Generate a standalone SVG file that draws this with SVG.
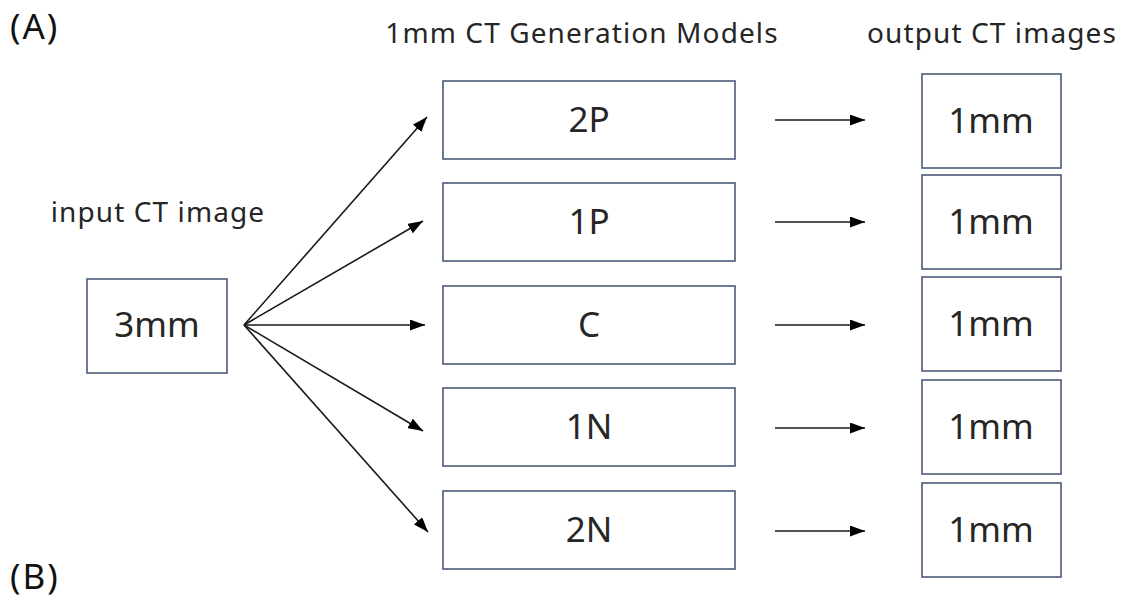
<svg xmlns="http://www.w3.org/2000/svg" width="1122" height="601" viewBox="0 0 1122 601">
  <style>
    .box { fill: #ffffff; stroke: #4a5a78; stroke-width: 1.6; }
    .lbl { font-family: "Noto Sans", "Liberation Sans", sans-serif; fill: #262626; text-anchor: middle; }
    .node { font-size: 35px; }
    .head { font-size: 28px; letter-spacing: 1.1px; }
    .tag { font-family: "Noto Sans", "Liberation Sans", sans-serif; fill: #111111; font-size: 35px; letter-spacing: 2px; }
    .conn { stroke: #1a1a1a; stroke-width: 1.6; fill: none; marker-end: url(#arrow); }
  </style>
  <defs>
    <marker id="arrow" viewBox="0 0 15 11" refX="15" refY="5.5" markerWidth="15" markerHeight="11" markerUnits="userSpaceOnUse" orient="auto">
      <path d="M0,0 L15,5.5 L0,11 Z" fill="#000000"/>
    </marker>
  </defs>
  <rect width="1122" height="601" fill="#ffffff"/>

  <!-- panel tags and column headings -->
  <text class="tag" x="10" y="39">(A)</text>
  <text class="tag" x="10" y="589">(B)</text>
  <text class="lbl head" x="582" y="43">1mm CT Generation Models</text>
  <text class="lbl head" x="992" y="43">output CT images</text>
  <text class="lbl head" x="158" y="222">input CT image</text>

  <!-- input -->
  <g id="input-3mm">
    <rect class="box" x="87" y="279" width="140" height="94"/>
    <text class="lbl node" x="157" y="337">3mm</text>
  </g>

  <!-- generation models -->
  <g id="model-2P">
    <rect class="box" x="443" y="81" width="292" height="78"/>
    <text class="lbl node" x="589" y="132">2P</text>
  </g>
  <g id="model-1P">
    <rect class="box" x="443" y="183" width="292" height="78"/>
    <text class="lbl node" x="589" y="234">1P</text>
  </g>
  <g id="model-C">
    <rect class="box" x="443" y="286" width="292" height="78"/>
    <text class="lbl node" x="589" y="337">C</text>
  </g>
  <g id="model-1N">
    <rect class="box" x="443" y="388" width="292" height="78"/>
    <text class="lbl node" x="589" y="439">1N</text>
  </g>
  <g id="model-2N">
    <rect class="box" x="443" y="491" width="292" height="78"/>
    <text class="lbl node" x="589" y="542">2N</text>
  </g>

  <!-- outputs -->
  <g id="out-2P">
    <rect class="box" x="922" y="74" width="139" height="94"/>
    <text class="lbl node" x="991" y="133">1mm</text>
  </g>
  <g id="out-1P">
    <rect class="box" x="922" y="175" width="139" height="94"/>
    <text class="lbl node" x="991" y="234">1mm</text>
  </g>
  <g id="out-C">
    <rect class="box" x="922" y="277" width="139" height="94"/>
    <text class="lbl node" x="991" y="336">1mm</text>
  </g>
  <g id="out-1N">
    <rect class="box" x="922" y="380" width="139" height="94"/>
    <text class="lbl node" x="991" y="439">1mm</text>
  </g>
  <g id="out-2N">
    <rect class="box" x="922" y="483" width="139" height="94"/>
    <text class="lbl node" x="991" y="542">1mm</text>
  </g>

  <!-- connectors -->
  <g id="connectors">
    <line class="conn" x1="244" y1="325" x2="427" y2="117"/>
    <line class="conn" x1="244" y1="325" x2="423" y2="221"/>
    <line class="conn" x1="244" y1="325" x2="425" y2="325"/>
    <line class="conn" x1="244" y1="325" x2="423" y2="431"/>
    <line class="conn" x1="244" y1="325" x2="428" y2="532"/>

    <line class="conn" x1="775" y1="120" x2="865" y2="120"/>
    <line class="conn" x1="775" y1="222" x2="865" y2="222"/>
    <line class="conn" x1="775" y1="325" x2="865" y2="325"/>
    <line class="conn" x1="775" y1="428" x2="865" y2="428"/>
    <line class="conn" x1="775" y1="531" x2="865" y2="531"/>
  </g>
</svg>
